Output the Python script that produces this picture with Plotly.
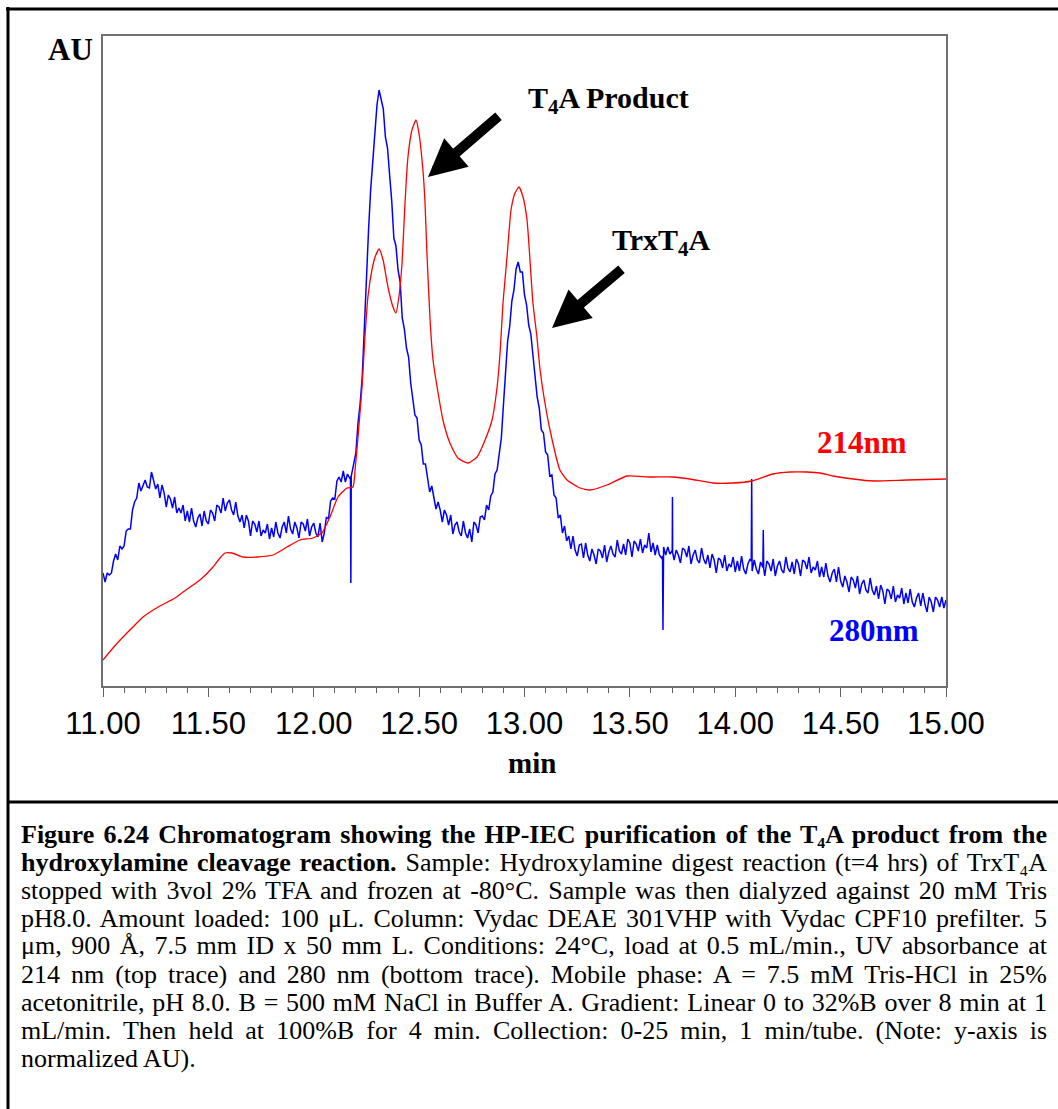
import plotly.graph_objects as go

# ---------------- data (min, normalized mAU) ----------------
red_t = [11.000, 11.047, 11.095, 11.142, 11.190, 11.270, 11.342, 11.380, 11.460, 11.522,
         11.555, 11.579, 11.612, 11.664, 11.731, 11.807, 11.873, 11.935, 11.996, 12.039,
         12.077, 12.115, 12.158, 12.186, 12.196, 12.210, 12.229, 12.243, 12.257, 12.276,
         12.291, 12.310, 12.329, 12.352, 12.376, 12.390, 12.404, 12.419, 12.433, 12.447,
         12.466, 12.485, 12.499, 12.518, 12.528, 12.537, 12.552, 12.566, 12.590, 12.613,
         12.646, 12.684, 12.732, 12.775, 12.813, 12.846, 12.870, 12.884, 12.898, 12.917,
         12.936, 12.955, 12.974, 12.993, 13.012, 13.026, 13.040, 13.059, 13.074, 13.097,
         13.121, 13.168, 13.202, 13.263, 13.311, 13.391, 13.486, 13.595, 13.705, 13.785,
         13.894, 13.989, 14.079, 14.179, 14.260, 14.340, 14.402, 14.464, 14.559, 14.654,
         14.815, 15.000]
red_v = [26, 38, 49, 59, 69, 80, 88, 94, 106, 119,
         128, 133, 133, 129, 129, 131, 139, 146, 148, 153,
         169, 189, 198, 199, 216, 249, 299, 349, 389, 416,
         429, 437, 426, 399, 379, 373, 389, 423, 483, 529,
         556, 566, 553, 516, 483, 433, 366, 326, 293, 266,
         243, 228, 223, 229, 246, 266, 299, 333, 383, 429,
         476, 493, 499, 489, 466, 426, 383, 349, 316, 283,
         256, 216, 206, 198, 196, 201, 210, 209, 209, 207,
         203, 203, 205, 212, 214, 214, 213, 210, 207, 205,
         206, 207]

# 280 nm trace sampled every 0.01 min from 11.00 to 15.00 (rows of 0.10 min)
blue_start, blue_step = 11.00, 0.01
blue_v = [
    113, 104, 113, 111, 113, 125, 132, 126, 140, 137,   # 11.0
    140, 155, 157, 157, 176, 184, 188, 203, 195, 201,   # 11.1
    206, 199, 198, 214, 205, 197, 202, 188, 201, 193,   # 11.2
    179, 191, 187, 178, 189, 173, 178, 173, 181, 165,   # 11.3
    175, 164, 178, 165, 159, 168, 172, 160, 175, 165,   # 11.4
    162, 176, 173, 165, 181, 179, 173, 188, 175, 183,   # 11.5
    186, 176, 171, 184, 170, 164, 171, 158, 171, 165,   # 11.6
    150, 165, 162, 154, 165, 150, 156, 153, 162, 147,   # 11.7
    158, 149, 164, 153, 148, 159, 164, 153, 170, 157,   # 11.8
    152, 164, 158, 148, 164, 162, 155, 167, 150, 159,   # 11.9
    163, 153, 149, 163, 144, 153, 169, 167, 185, 188,   # 12.0
    187, 205, 209, 204, 215, 204, 212, 208, 212, 222,   # 12.1
    233, 263, 282, 309, 360, 419, 456, 496, 524, 552,   # 12.2
    581, 596, 585, 577, 549, 538, 511, 485, 448, 440,   # 12.3
    416, 404, 368, 357, 338, 329, 303, 288, 271, 268,   # 12.4
    246, 241, 222, 222, 205, 194, 200, 186, 177, 184,   # 12.5
    176, 164, 176, 171, 161, 171, 152, 161, 164, 154,   # 12.6
    150, 165, 153, 148, 157, 144, 164, 161, 153, 169,   # 12.7
    170, 166, 181, 176, 190, 194, 212, 216, 235, 248,   # 12.8
    281, 309, 345, 360, 385, 396, 417, 424, 414, 414,   # 12.9
    391, 381, 361, 352, 330, 313, 289, 278, 256, 253,   # 13.0
    234, 231, 210, 211, 191, 188, 168, 171, 153, 160,   # 13.1
    145, 150, 137, 150, 136, 130, 141, 142, 128, 143,   # 13.2
    131, 125, 137, 131, 122, 137, 135, 128, 141, 124,   # 13.3
    134, 140, 132, 129, 146, 135, 132, 142, 131, 147,   # 13.4
    143, 129, 145, 142, 135, 147, 133, 141, 138, 153,   # 13.5
    134, 143, 131, 141, 131, 128, 139, 131, 139, 132,   # 13.6
    135, 126, 136, 131, 123, 138, 136, 129, 140, 122,   # 13.7
    131, 136, 126, 123, 138, 127, 122, 131, 118, 132,   # 13.8
    126, 113, 128, 126, 118, 131, 115, 122, 119, 129,   # 13.9
    114, 125, 115, 130, 117, 112, 122, 127, 115, 126,   # 14.0
    117, 112, 124, 119, 110, 125, 122, 115, 127, 110,   # 14.1
    120, 125, 116, 113, 129, 118, 114, 124, 112, 127,   # 14.2
    122, 110, 126, 124, 117, 129, 113, 119, 116, 125,   # 14.3
    109, 119, 109, 123, 110, 104, 113, 117, 104, 119,   # 14.4
    105, 99, 110, 104, 94, 109, 106, 98, 110, 92,       # 14.5
    102, 106, 96, 93, 108, 96, 91, 100, 87, 101,        # 14.6
    95, 82, 97, 95, 87, 100, 84, 91, 88, 98,            # 14.7
    82, 93, 83, 97, 84, 79, 88, 93, 80, 93,             # 14.8
    82, 74, 89, 84, 74, 89, 86, 79, 89, 78,             # 14.9
    86,                                                 # 15.0
]
# single-sample spikes in the 280 nm trace
spike_t = [12.174, 12.176, 12.178, 13.655, 13.657, 13.659, 13.701, 13.702, 13.703,
           14.076, 14.078, 14.079, 14.131, 14.133, 14.135]
spike_v = [209, 103, 210, 130, 56, 136, 134, 189, 133,
           125, 207, 118, 119, 156, 117]

x_ticks = [11.0, 11.5, 12.0, 12.5, 13.0, 13.5, 14.0, 14.5, 15.0]
x_ticktext = ["11.00", "11.50", "12.00", "12.50", "13.00", "13.50", "14.00", "14.50", "15.00"]

caption_lines = [
    "<b>Figure 6.24 Chromatogram showing the HP-IEC purification of the T₄A product from the</b>",
    "<b>hydroxylamine cleavage reaction.</b> Sample: Hydroxylamine digest reaction (t=4 hrs) of TrxT₄A",
    "stopped with 3vol 2% TFA and frozen at -80°C. Sample was then dialyzed against 20 mM Tris",
    "pH8.0. Amount loaded: 100 μL. Column: Vydac DEAE 301VHP with Vydac CPF10 prefilter. 5",
    "μm, 900 Å, 7.5 mm ID x 50 mm L. Conditions: 24°C, load at 0.5 mL/min., UV absorbance at",
    "214 nm (top trace) and 280 nm (bottom trace). Mobile phase: A = 7.5 mM Tris-HCl in 25%",
    "acetonitrile, pH 8.0. B = 500 mM NaCl in Buffer A. Gradient: Linear 0 to 32%B over 8 min at 1",
    "mL/min. Then held at 100%B for 4 min. Collection: 0-25 min, 1 min/tube. (Note: y-axis is",
    "normalized AU).",
]

# ---------------- build ----------------
blue_t = [round(blue_start + i * blue_step, 3) for i in range(len(blue_v))]
pairs = sorted(list(zip(blue_t, blue_v)) + list(zip(spike_t, spike_v)))
bt = [p[0] for p in pairs]
bv = [p[1] for p in pairs]

W, H = 1058, 1109
L, R, T, B = 103, 946, 36, 686
pw, ph = R - L, B - T


def px(xp):
    return (xp - L) / pw


def py(yp):
    return (B - yp) / ph


fig = go.Figure()
fig.add_trace(go.Scatter(x=bt, y=bv, mode="lines", name="280nm",
                         line=dict(color="#0000FF", width=1.5), hoverinfo="skip"))
fig.add_trace(go.Scatter(x=red_t, y=red_v, mode="lines", name="214nm",
                         line=dict(color="#FF0000", width=1.3, shape="spline", smoothing=0.5),
                         hoverinfo="skip"))

serif = "Liberation Serif, Times New Roman, serif"
sans = "Liberation Sans, Arial, sans-serif"

annotations = []
# caption first, so indices 0..8 are known for justification
for i, line in enumerate(caption_lines):
    annotations.append(dict(
        text=line, xref="paper", yref="paper", x=px(19), y=py(834 + 28 * i),
        xanchor="left", yanchor="middle", align="left", showarrow=False,
        font=dict(family=serif, size=26, color="black")))


def label(text, cx, cy, size, color="black"):
    return dict(text=text, xref="paper", yref="paper", x=px(cx), y=py(cy),
                xanchor="center", yanchor="middle", showarrow=False,
                font=dict(family=serif, size=size, color=color))


annotations += [
    label("<b>AU</b>", 70, 49, 31),
    label("<b>min</b>", 532, 763, 29),
    label("<b>T<sub>4</sub>A Product</b>", 608, 100, 30),
    label("<b>TrxT<sub>4</sub>A</b>", 661, 242, 30),
    label("<b>214nm</b>", 862, 442, 31, "#FF0000"),
    label("<b>280nm</b>", 874, 630, 31, "#0000FF"),
    dict(text="", xref="paper", yref="paper", x=px(428), y=py(177), ax=72, ay=-62,
         showarrow=True, arrowhead=2, arrowsize=0.75, arrowwidth=10, arrowcolor="black"),
    dict(text="", xref="paper", yref="paper", x=px(552), y=py(328), ax=71, ay=-60,
         showarrow=True, arrowhead=2, arrowsize=0.75, arrowwidth=10, arrowcolor="black"),
]

shapes = [
    dict(type="line", xref="paper", yref="paper", x0=px(6), x1=px(1070), y0=py(9), y1=py(9),
         line=dict(color="black", width=3)),
    dict(type="line", xref="paper", yref="paper", x0=px(8), x1=px(8), y0=py(7), y1=py(1120),
         line=dict(color="black", width=3)),
    dict(type="line", xref="paper", yref="paper", x0=px(8), x1=px(1070), y0=py(802), y1=py(802),
         line=dict(color="black", width=3)),
]

fig.update_layout(
    width=W, height=H,
    margin=dict(l=L, r=W - R, t=T, b=H - B, pad=0),
    paper_bgcolor="white", plot_bgcolor="white",
    showlegend=False,
    annotations=annotations,
    shapes=shapes,
    xaxis=dict(range=[11, 15], tickvals=x_ticks, ticktext=x_ticktext,
               ticks="outside", ticklen=9, tickwidth=1, tickcolor="#606060",
               minor=dict(dtick=0.1, ticks="outside", ticklen=5, tickcolor="#606060", tickwidth=1),
               showline=True, linecolor="#707070", linewidth=1.5, mirror=True,
               showgrid=False, zeroline=False,
               tickfont=dict(family=sans, size=31, color="black")),
    yaxis=dict(range=[0, 650], showticklabels=False, ticks="",
               showline=True, linecolor="#707070", linewidth=1.5, mirror=True,
               showgrid=False, zeroline=False),
)

# justify the first eight caption lines by widening the word spacing
post = """
(function(){
  function just(){
    try {
      var gd = document.getElementById('{plot_id}');
      var gs = gd.querySelectorAll('g.annotation');
      gs.forEach(function(g){
        var idx = parseInt(g.getAttribute('data-index'));
        if (idx >= 0 && idx < 8) {
          var t = g.querySelector('text.annotation-text');
          if (!t) return;
          t.style.wordSpacing = '0px';
          var nat = t.getComputedTextLength();
          var n = (t.textContent.match(/ /g) || []).length;
          if (n > 0 && nat > 0 && nat < 1026) {
            t.style.wordSpacing = ((1026 - nat) / n).toFixed(2) + 'px';
          }
        }
      });
    } catch(e) {}
  }
  just();
  setTimeout(just, 30);
  setTimeout(just, 200);
})();
"""

fig.write_html("out.html", post_script=post, config={"displayModeBar": False})
